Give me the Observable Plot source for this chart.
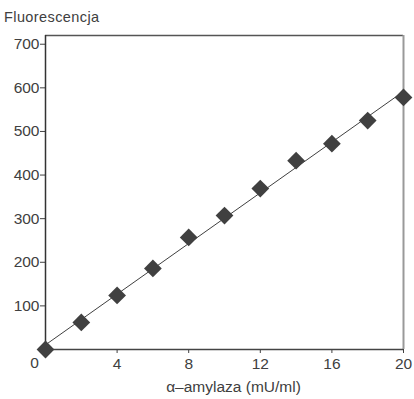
<!DOCTYPE html>
<html>
<head>
<meta charset="utf-8">
<script src="https://cdn.jsdelivr.net/npm/d3@7"></script>
<script src="https://cdn.jsdelivr.net/npm/@observablehq/plot@0.6"></script>
<style>
  html, body { margin: 0; padding: 0; background: #fff; }
  #chart { position: relative; width: 414px; height: 399px; font-family: "Liberation Sans", Arial, sans-serif; color: #404040; }
  #title { position: absolute; left: 4px; top: 9px; font-size: 14.5px; letter-spacing: 0.4px; }
  svg { position: absolute; left: 0; top: 0; }
</style>
</head>
<body>
<div id="chart"><div id="title">Fluorescencja</div></div>
<script>
const amylase = [0, 2, 4, 6, 8, 10, 12, 14, 16, 18, 20];
const fluorescence = [0, 62, 124, 186, 257, 307, 369, 433, 472, 525, 578];
const xTicks = [4, 8, 12, 16, 20];
const yTicks = [100, 200, 300, 400, 500, 600, 700];
const xLabel = "α–amylaza (mU/ml)";

const data = amylase.map((x, i) => ({x, y: fluorescence[i]}));

const plot = Plot.plot({
  width: 414,
  height: 399,
  marginLeft: 45,
  marginRight: 11,
  marginTop: 35,
  marginBottom: 50,
  style: {fontFamily: "Liberation Sans, Arial, sans-serif", fontSize: "15.5px", color: "#404040", background: "transparent"},
  x: {domain: [0, 20], ticks: xTicks, tickSize: 4, tickPadding: 4, label: null},
  y: {domain: [0, 720], ticks: yTicks, tickSize: 5, tickPadding: 1, label: null},
  marks: [
    Plot.ruleY([720], {stroke: "#555", strokeWidth: 1.5}),
    Plot.ruleX([20], {stroke: "#999", strokeWidth: 2}),
    Plot.ruleX([0], {stroke: "#333", strokeWidth: 1.5}),
    Plot.ruleY([0], {stroke: "#444", strokeWidth: 1.5}),
    Plot.linearRegressionY(data, {x: "x", y: "y", stroke: "#404040", strokeWidth: 1, ci: 0}),
    Plot.dot(data, {x: "x", y: "y", symbol: "diamond2", r: 8, fill: "#404040", stroke: "none"}),
    Plot.text([0], {x: d => d, y: 0, text: ["0"], dx: -11, dy: 14, fill: "#404040", fontSize: 15.5}),
    Plot.text([xLabel], {frameAnchor: "bottom", dx: 9, dy: 42, fill: "#404040", fontSize: 15.5})
  ]
});
document.getElementById("chart").appendChild(plot);
</script>
</body>
</html>
